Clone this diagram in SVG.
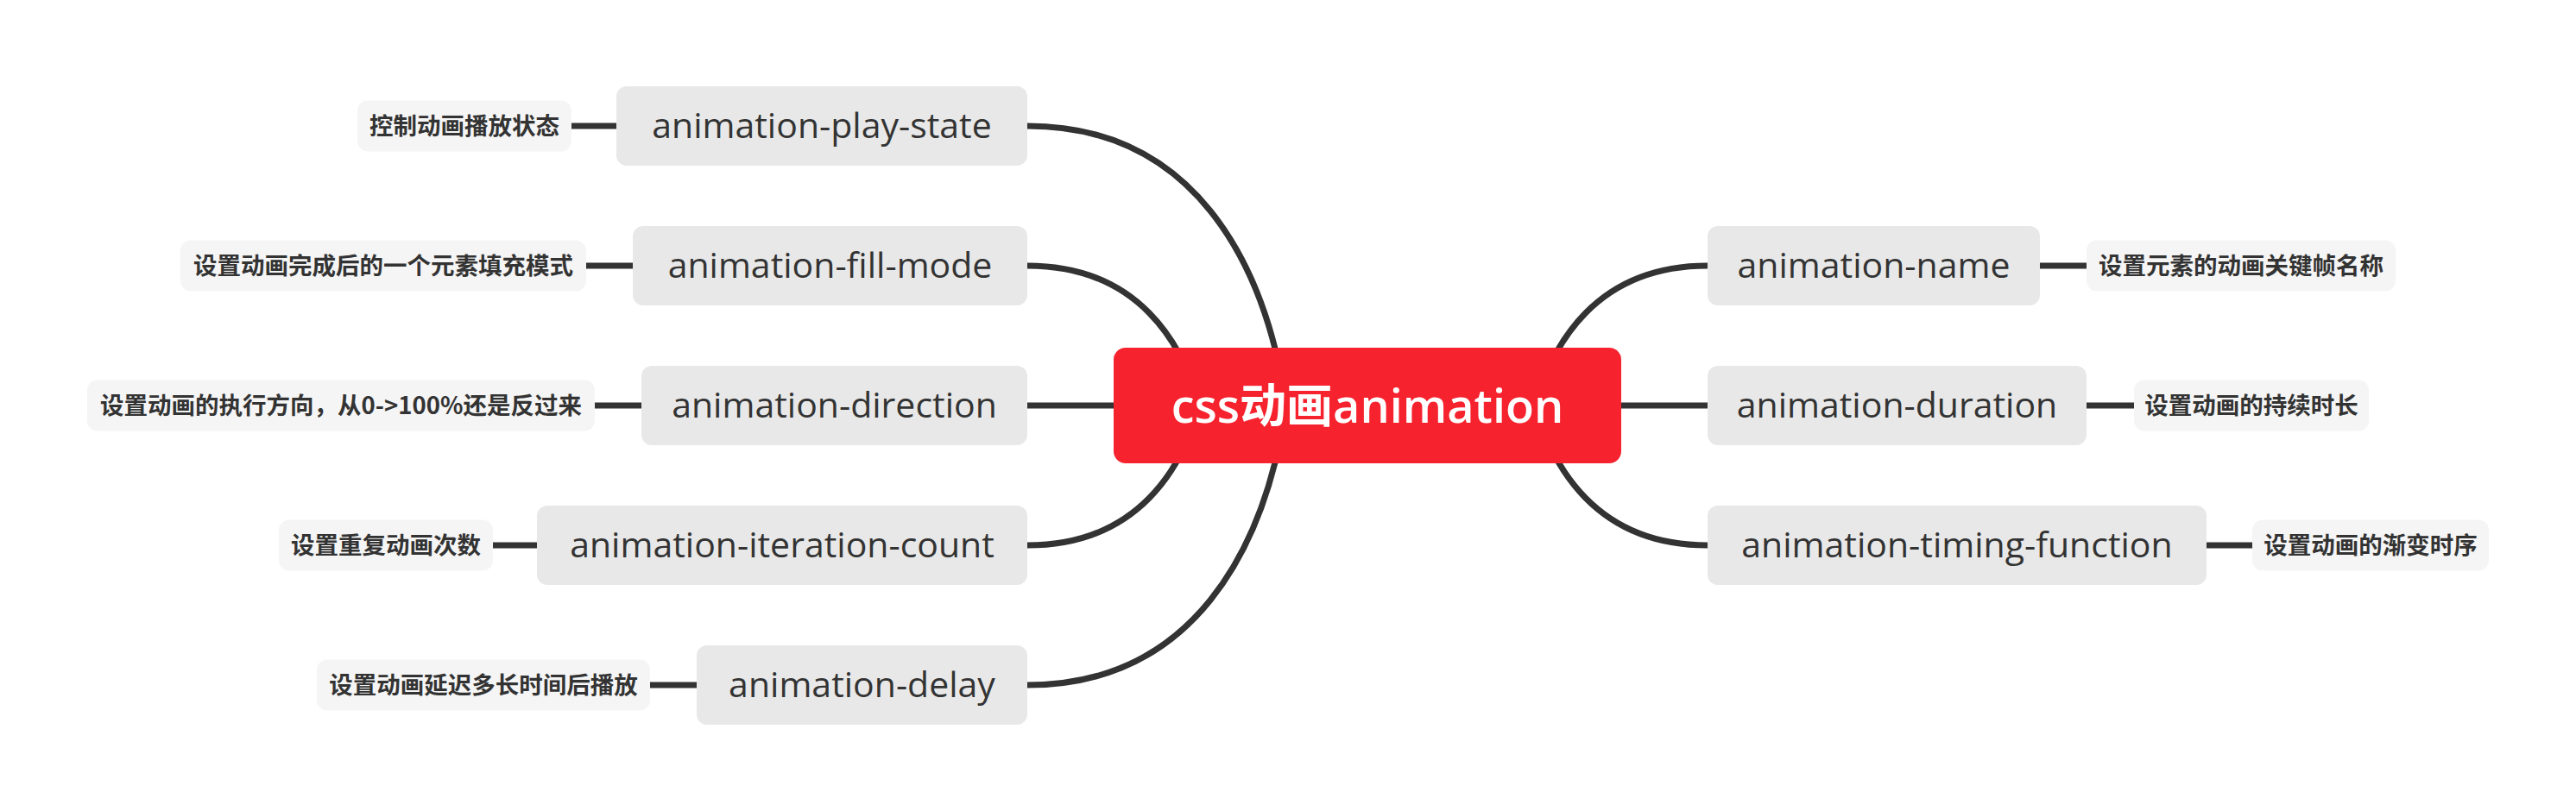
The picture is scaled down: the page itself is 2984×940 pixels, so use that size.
<svg xmlns="http://www.w3.org/2000/svg" width="2984" height="940" viewBox="0 0 2984 940">
<style>
.bg{fill:#ffffff}
.conn{fill:none;stroke:#333333;stroke-width:7;stroke-linecap:butt}
.main rect{fill:#e8e8e8}
.main text{font-family:"Open Sans","Noto Sans",sans-serif;font-size:41px;font-weight:500;fill:#333333;text-anchor:middle}
.leaf rect{fill:#f5f5f5}
.leaf text{font-family:"Noto Sans CJK SC","Noto Sans",sans-serif;font-size:27.5px;font-weight:bold;fill:#333333;text-anchor:middle}
.root rect{fill:#f6222e}
.root text{font-family:"Open Sans","Noto Sans CJK SC",sans-serif;font-size:54px;font-weight:600;fill:#ffffff;text-anchor:middle}
</style>
<rect class="bg" x="0" y="0" width="2984" height="940"/>
<g id="connectors">
<path class="conn" d="M1490,470 C1465,300 1380,146 1190,146"/>
<path class="conn" d="M1390,470 C1370,400 1320,308 1190,308"/>
<path class="conn" d="M1300,470 L1190,470"/>
<path class="conn" d="M1390,470 C1370,540 1320,632 1190,632"/>
<path class="conn" d="M1490,470 C1465,640 1380,794 1190,794"/>
<path class="conn" d="M1778,470 C1798,400 1848,308 1978,308"/>
<path class="conn" d="M1868,470 L1978,470"/>
<path class="conn" d="M1778,470 C1798,540 1848,632 1978,632"/>
<path class="conn" d="M662,146 L714,146"/>
<path class="conn" d="M679,308 L733,308"/>
<path class="conn" d="M689,470 L743,470"/>
<path class="conn" d="M571,632 L622,632"/>
<path class="conn" d="M753,794 L807,794"/>
<path class="conn" d="M2363,308 L2417,308"/>
<path class="conn" d="M2417,470 L2472,470"/>
<path class="conn" d="M2556,632 L2609,632"/>
</g>
<g id="root" class="root">
<rect x="1290" y="403" width="588" height="134" rx="14"/>
<text x="1584" y="490">css动画animation</text>
</g>
<g id="play-state" class="main">
<rect x="714" y="100" width="476" height="92" rx="12"/>
<text x="952" y="160">animation-play-state</text>
</g>
<g id="fill-mode" class="main">
<rect x="733" y="262" width="457" height="92" rx="12"/>
<text x="961.5" y="322">animation-fill-mode</text>
</g>
<g id="direction" class="main">
<rect x="743" y="424" width="447" height="92" rx="12"/>
<text x="966.5" y="484">animation-direction</text>
</g>
<g id="iteration-count" class="main">
<rect x="622" y="586" width="568" height="92" rx="12"/>
<text x="906" y="646">animation-iteration-count</text>
</g>
<g id="delay" class="main">
<rect x="807" y="748" width="383" height="92" rx="12"/>
<text x="998.5" y="808">animation-delay</text>
</g>
<g id="name" class="main">
<rect x="1978" y="262" width="385" height="92" rx="12"/>
<text x="2170.5" y="322">animation-name</text>
</g>
<g id="duration" class="main">
<rect x="1978" y="424" width="439" height="92" rx="12"/>
<text x="2197.5" y="484">animation-duration</text>
</g>
<g id="timing-function" class="main">
<rect x="1978" y="586" width="578" height="92" rx="12"/>
<text x="2267" y="646">animation-timing-function</text>
</g>
<g id="leaf-play-state" class="leaf">
<rect x="414" y="116.5" width="248" height="59" rx="12"/>
<text x="538" y="156">控制动画播放状态</text>
</g>
<g id="leaf-fill-mode" class="leaf">
<rect x="209" y="278.5" width="470" height="59" rx="12"/>
<text x="444" y="318">设置动画完成后的一个元素填充模式</text>
</g>
<g id="leaf-direction" class="leaf">
<rect x="101" y="440.5" width="588" height="59" rx="12"/>
<text x="395" y="480">设置动画的执行方向，从0-&gt;100%还是反过来</text>
</g>
<g id="leaf-iteration-count" class="leaf">
<rect x="323" y="602.5" width="248" height="59" rx="12"/>
<text x="447" y="642">设置重复动画次数</text>
</g>
<g id="leaf-delay" class="leaf">
<rect x="367" y="764.5" width="386" height="59" rx="12"/>
<text x="560" y="804">设置动画延迟多长时间后播放</text>
</g>
<g id="leaf-name" class="leaf">
<rect x="2417" y="278.5" width="358" height="59" rx="12"/>
<text x="2596" y="318">设置元素的动画关键帧名称</text>
</g>
<g id="leaf-duration" class="leaf">
<rect x="2472" y="440.5" width="272" height="59" rx="12"/>
<text x="2608" y="480">设置动画的持续时长</text>
</g>
<g id="leaf-timing-function" class="leaf">
<rect x="2609" y="602.5" width="274" height="59" rx="12"/>
<text x="2746" y="642">设置动画的渐变时序</text>
</g>
</svg>
